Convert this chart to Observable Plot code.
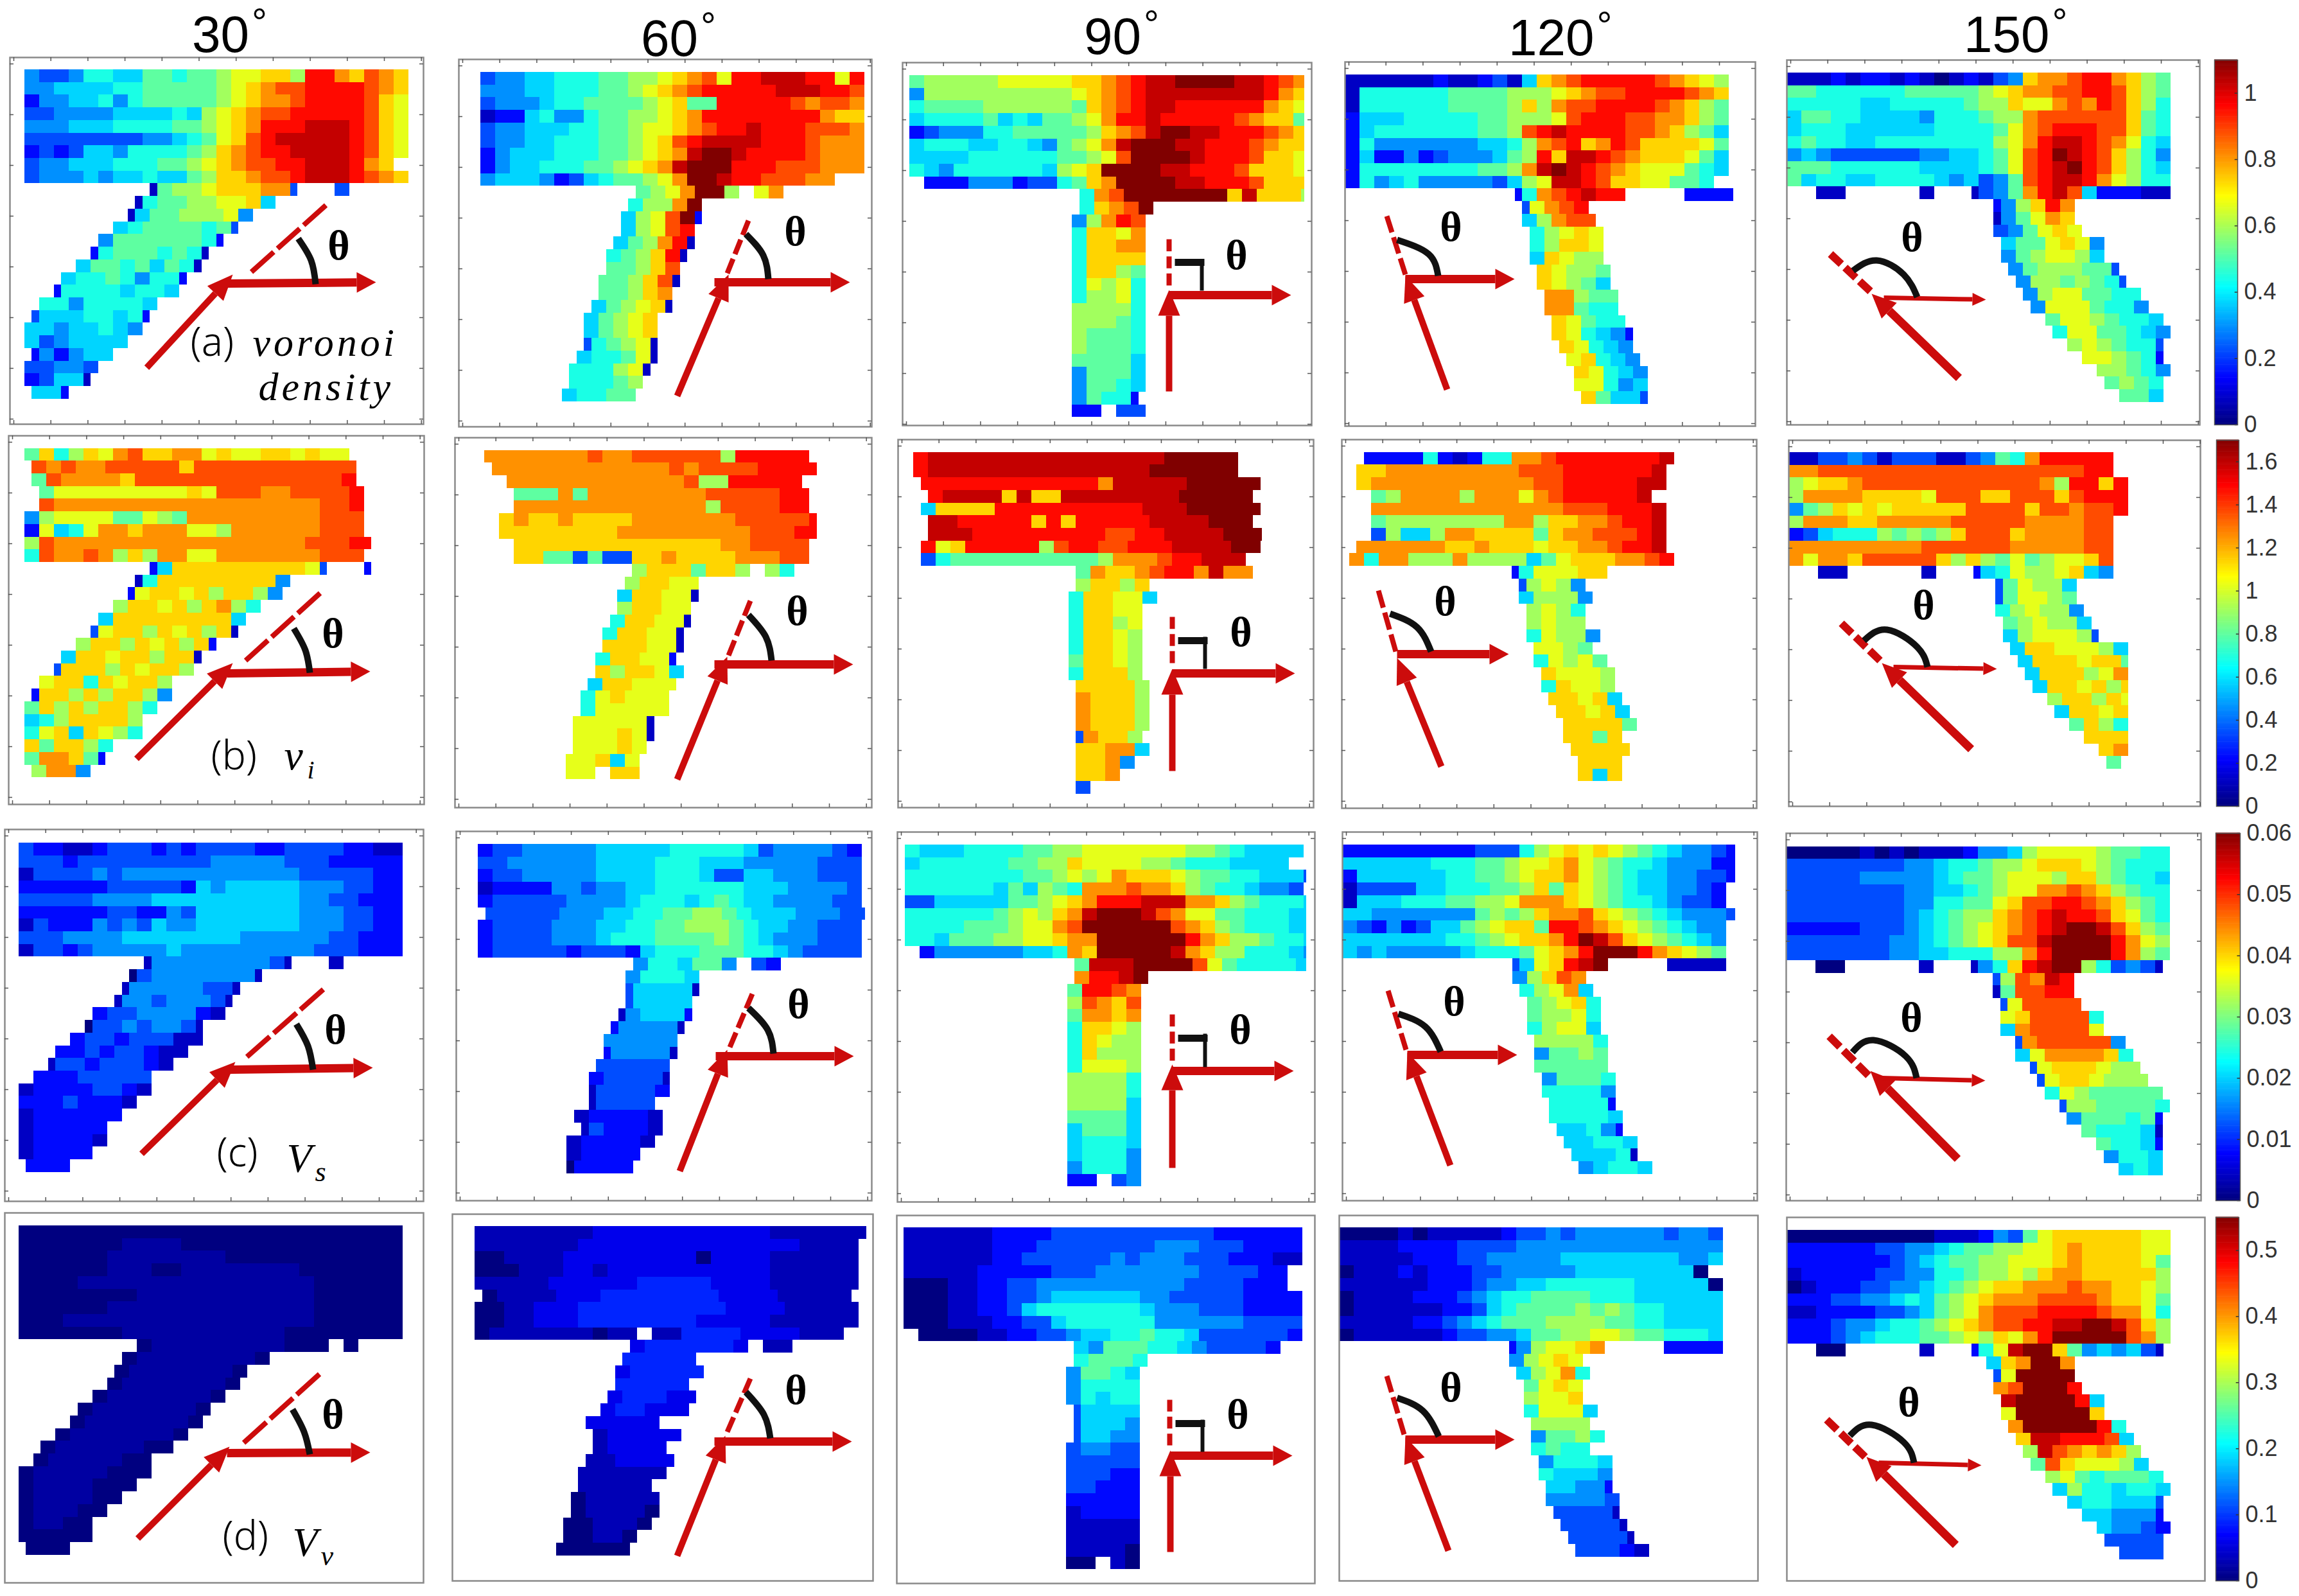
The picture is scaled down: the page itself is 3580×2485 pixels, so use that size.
<!DOCTYPE html>
<html><head><meta charset="utf-8">
<script src="https://cdn.jsdelivr.net/npm/d3@7"></script>
<script src="https://cdn.jsdelivr.net/npm/@observablehq/plot@0.6"></script>
<style>
html,body{margin:0;padding:0;background:#fff}
#page{position:relative;width:3580px;height:2485px;overflow:hidden;background:#fff}
#page>svg{position:absolute}
.title{position:absolute;font:80px/1 "Liberation Sans",sans-serif;color:#000;white-space:nowrap}
.title span{font-size:60px;position:relative;top:-26px;margin-left:4px}
.ls{letter-spacing:5px}
</style></head><body><div id="page"></div>
<script>
// Cell values: one character per cell, 0-f = level/15 of the row's colour-bar maximum, "." = no data.
// A leading ">" shifts that row half a cell to the right. Spaces are only for reading.
const voronoi30=[
"43346 65577 67789 9aa8d dbacb a","44555 56677 77789 abccd dddcb a","24455 64677 77789 abbcd dddca 9","33444 45555 65 89abc cdddd dca9 ","44455 56666 77 89abd ddeee dca9 ","33333 33344 56 79acd eeeee dca9 ","23235 54666 67 8abcd deeee dca9 ","34455 56667 78 9abcc ddeee dba  ","34445 45565 57 8aabc cdeee dcba ",
"........17889aaabb3..3",".......16778899a5",">......157788894","......567777673",".....477777762","....267776761",">...577675761",">..566764662",">.266665665",".66466665","355566562","55455654","5345555","242455","33443","23551",">552"];
const voronoi60=[
"34455 66677 889ab c9dde eedd9 d","44455 66677 89abc ddddd eeedd c","34445 66777 789a7 7dddd dcbcc b","12256 44677 889ab ddddd dddba ab","34455 56677 899ab cdded ddccc b","34455 66677 89acd eeeed ddcbb b","24555 66677 89abe ffedd ddcbb b","24556 66778 9abef ffddd cccbb b","45554 23567 78 9bffed dcccb b  ",
">..........789bff8.9b","..........688bf",">.........589cf2",">.........589cd",".........578bd1",">........678ad1",">........778ac","........778ac1","........778ab",">.......5789a1",".......5789a",".......5789a",">......367891",">......566791","......666891","......66678",">.....56677"];
const voronoi90=[
"78888 89999 9aabc deeff ffeed cba 8","48888 88888 89abc deeee eeeed bab 9","67777 88888 87abc deedd ddddb a98 8","56666 75657 789bd deddd ddcba a7b a","23444 66777 778ab ceffe edddc baa 9","56665 56654 789be fffee dddcb aa9 a","55556 66666 7789c ffffe dddca a99 a","65466 66665 89aff ffeed ddcaa a99 a",".2224 44233 67abf fffee dddca aab b",
">...........6bcfffffffaeaaa85",">...........6abcf","...........48bdc","...........6aa9b","...........6aabb","...........6aaaa","...........6aa87","...........69896","...........68896","...........88886","...........88876","...........87776","...........87776","...........77775","...........47775","...........47765","...........47662","...........22.33"];
const voronoi120=[
"11111 12112 315ab cdddd dcba9 8","16666 66777 78889 abccd dddcb a","16666 66777 78a8b ccddd dcba8 7","25556 66667 78889 cdddc cbba8 7","25666 66667 78cde ddddc cba87 5","26444 44445 568bc dabdc aaaa9 7","25224 23444 578da eedcb aaa97 5","26666 66667 78bef edcba 99976 5","26456 44444 358 9eedca a9977 6",
"...........26bcdedd....2222",">...........39bcd","............58bcc",">............689a9",">............68aa9",">............5a988",".............a9887",".............a9875",">.............bb877",">.............bb766","..............a9766","..............a96542",">..............a9654","...............9a654",">...............a9654",">...............99645","................a7553"];
const voronoi150=[
"1112122121012134abbcddba87","7766666677777 89abbccddca87","6666655666667 88a99bcbdca86","5776655554666 788bcccccca76","5666555555666 679bcdddcca76","6766556666666 689bdeedcb965","4543333334455 679cdfedca864","7776666665555 679cdefdca865","7566556666545 347cdeedb9866",
"..11.....1..1347bdec522211",">.............248adb",">.............1479ba","..............3479a9",">..............5779a94",">..............4789985","...............47888773","> ...............488787 63".replace(/ /g,""),"................48997766",">................49997664",">.................79987665","..................69977654","...................8987663","....................998762",".....................88764",">.....................7876",">......................775"];

const vi30=[
"7a68a 9bcaa bb9a9 9aa9a 99",">cbcbb ccccc acccc ccccc cc",">7cbbbbaccccccccccccccd",".7999999999a9cccbbccccd",".cbbbbbbbbbbbbbbbbbbccd","48999977987bbbbbbbbbccc","29569bbabbb998bbbbbbccc","8cbbbbbbbbbbbbbbbbbcccdd","6cbbcb8a8bb99bbbbbbbccc",
"........25aaaaaaaaa93..2",".......16aaaaaaaa4",">......29aa9a8aa84","......8aa9a8ab86",".....5aaaaaaaa5","....39aa8a9a8a1",">...8aa8a9a8a2",">..5aa9aa8aa1",">.3aaa8a9aa8",".9aa6a9aa8","2aa8a8aa84","7a8a8aa86","568aaaa8","69a5a986","a7aa86","7bba72",">8bb4"];
const vi60=[
"bbbbb bbcbb ccccc c8ddd dd",">bbbbb bbbbb bbcbc cccdd dd",">.bbbbbbbbbbbbc88ddddd","..777b7bbbbbbbbcccccdd","..bbbbbbbbbbbbb8ccccdd",".abaabaaaabbbbbbbcccccd",".aaaaaaaabbbbbbbbbcccdd","..aaaaaaaaaaaaaabbcccc","..aa773733aabaaaabbbcc",
"..........8aaa7aa8.86",">.........8aa99",".........5aa991",".........8aa99",">........6aa991","........6aa991","........aaa991",">.......6aa992",">.......a8aa95",".......5aa999",">......69a999",">......699999","......999991","......999a91","......999a9",">.....99a59",">.....99.aa"];
const vi90=[
"deeee eeeee eeeee eefff ff","deeee eeeee eeeee efff fff",">ddddddddddddbeeeeefffff",".deeeeaeaaeeeeeeeefffff",">5aaaaddddddddddeeefffff",".eedddddadadddddeeeefff",".eeedddddddddccddeeeefff",">d9addddd8cddccdddeeeeff",">3677777777778bbbcddeee",
"...........7baabcddbebb","...........8aa8a",">..........6aa995",">..........6aa99",">..........6aa89",">..........6aa98",">..........6aa98",">..........7aa98",">..........6aaa8","...........aaaa8","...........baaa8","...........baaa8","...........baaa8",">..........3baa8","...........aabb5","...........aab4","...........aab","...........3"];
const vi120=[
".2222621266 bbcdd ddddd e",">aabbbbbbbbbcccdddddde",">abbbbbbbbbbbccdddddee",">.78bbbb8bbb9bcddddde",">.bbbbbbbbbbbbbcccddde",">.788888888bb8aabbcdde",">.38558bbaaaa7abbcccde",">bbbbbbaabaaa9aabbcdde","b6bb888b88885 79aaabbcd",
">..........269 99aa","...........38984",">...........58884","............8986","............8988","............69884",">............9987",">............69897",".............a9998",".............6a998",">.............aa9a5","..............aa9a5",">..............aaaa7",">..............aa7a","...............aaaa",">...............aaa",">...............a5a"];
const vi150=[
"1133431333 1134 76 b ddddd","bbccc ccccc ccccc ccccc dd","89aab ccccc ccccc cc b8 dd a d","8bbbb aaaa9 cccaa cccac ddd","478a9 a9aaa aaccc caccb ccd","8bbba abbbb bcccc cbbbb cc","23566 68787 8accc abbbb cc","bbbbb bbbbc ccccc bbbbb cc","b9bba ccccc a8a87 97899 ac",
"..11.....1..2569889a54",">.............379885",">.............379987","..............689884",">..............789885",">..............5899983","...............5aa99985",">...............5aaa9aa7","................5aaa89b",">................5aa9a8a",">.................8aa8a9","..................5aa9a","...................7a86","....................aaa",".....................ab",">.....................7"];

const vs30=[
"32211 23332 32333 32233 33221 1","33323 33333 33344 44433 32222 2","13333 43444 44444 44443 33332 2","22222 23333 32545 55554 44332 2","33333 44445 55555 55554 43322 2","22222 23322 43555 55554 44332 2","13222 43435 44555 55554 44332 2","33344 44555 55555 44444 43322 2","13323 44444 54444 44444 33322 2",
"........14444444431..1",".......0344444441",">......144444331","......144344431",".....233444421","....033434431",">...233233311",">..223233211",">.133233321",".22233333","122223321","22232221","1222222","122222","122221","12222",">222"];
const vs60=[
"23344 44455 55566 66653 44443 2","33444 44455 55666 55544 44433 3","23344 44455 55666 53355 44433 3","12222 44344 55666 66655 54444 3","23333 34444 56665 67655 44443 3",">33333 44455 66778 87655 54443 3","23333 44455 66778 88765 54433 3","23333 44456 66777 78765 44433 3","23333 32333 25666 77766 54333 3",
">..........4665774.32","..........46665",">.........355551",">.........35555",".........145552",">........244441",">........44444","........244441","........33333",">.......233331",".......133332",".......13333",">......122221",">......132221","......122221","......12222",">.....02222"];
const vs90=[
"65556 66677 88999 99998 87655 55","56666 66778 8a999 98876 66555 5","66666 66677 898 9baaa98 77665 553","66666 65758 76bbb cbba8 76654 43","33555 55778 9abdd deeeb ba876 665","66666 67898 abeff fecb9 97766 655","66667 77899 bcfff fffcb a8766 655","66577 78899 abbff ffffd ba887 665",".2444 44455 6baff fffeb a8866 654",
">...........7eeeffffc97666654",">...........bddef","...........7ddcb","...........8cbac","...........7bbab","...........6aa98","...........6a988","...........6a888","...........69998","...........88886","...........88886","...........88885","...........77775","...........57775","...........56665","...........56664","...........46664","...........22.34"];
const vs120=[
"22222 22223 33689 a9a98 76544 32","55555 56667 78 99ab 98766 54442 2","25555 55667 78 9aab 98765 54433 2","13333 55666 778a7 a9876 55443 2","15556 66778 89bbb a9876 65433 2","55444 44447 878ab bca98 76544 43","43242 35578 9aa7d dcba9 87654 4","55555 55667 89aab dfeca 98765 4","54544 44456 667 9ab dfffd ba987",
"...........359adef....1111",">...........48acb","............689b5",">............789a6",">............78896",">............68995",".............88886",".............47787",".............77777",">.............47776",">.............66664","..............66662","..............66665",">..............55642","...............55665",">...............55561","................45665"];
const vs150=[
"0000010101112 4458999987766","3333333344566 7889aaa987666","3333344444567 789998aa87665","3333333344556 7899bbcba8766","3333333344667 79accddcba876","3333333345678 8abcdeddca976","2222233345678 9abcdeffeca87","3333333445678 9acceffffdb98","3333333445566 688bdffffdb87",
"..00.....1..146adeff863431",">.............38cbed",">.............17ccdd","..............39cccc",">..............9acccc6",">..............5bcccc9","...............3bccccc4",">...............59bbbba6","................39aaa988",">................39aa9888",">.................69877777","..................38877776","...................4777672","....................766651",".....................76652",">.....................4665",">......................565"];

const vv30=[
"00000 00000 00000 00000 00000 0","00000 00111 10000 00000 00000 0","00000 01111 11110 00000 00000 0","00000 01110 01111 11110 00000 0","00001 11111 11111 11111 00000 0","00000 00011 11111 11111 00000 0","00000 01111 11111 11111 00000 0","00011 11111 11111 11111 00000 0","00000 00111 11111 11100 00000 0",
"........0111111111000.0",".......0111111110",">......011111110","......011111110",".....011111110","....011111110",">...011111110",">..011111110",">.011111100",".01111100","011111000","01111000","0111100","011100","01100","00000",">000"];
const vv60=[
"11111 11122 22222 22222 11111 11","11111 11222 22222 22222 22111 1","00111 12222 22222 02222 11111 1","00011 12212 22222 22222 11111 1","11111 22222 23333 32222 11111 1",">01111 22233 33333 32222 11111","00112 22333 33333 33222 21111 1","00112 22333 33333 22222 11111 1","01111 11101 1.113 33322 22111",
">..........23333332.11","..........33333",">.........233333",">.........33333",".........233322",">........233222",">.......22222","........122222","........12222",">.......112222",".......111111",".......11111",">......011111",">......011110","......001110","......00110",">.....00000"];
const vv90=[
"11111 12222 33333 33333 32222 22","11111 12223 33333 33444 33322 22","11111 12233 33334 34443 33222 11","11111 22222 33344 44444 33332 2","00011 22334 44444 44443 33322 2","00011 22334 55555 54433 33322 22","00011 22356 66666 65444 33322 22","00011 12233 56666 66444 44433 33",".0000 11223 34556 67665 33333 32",
">...........547776654 33332",">...........67776","...........47765","...........46666","...........46566","...........35555","...........35554","...........35544","...........34433","...........33333","...........33322","...........33222","...........22222","...........12222","...........11111","...........11111","...........11110","...........00.10"];
const vv120=[
"00001 01111 12334 34444 44344 3","11112 22233 33444 44444 44444 4","11111 22233 44444 55555 55544 5","01112 12223 34444 45555 55550","11111 12223 44556 66666 55555 0","01111 22234 56677 77666 55555 5","01111 11223 56777 78787 66555 5","11111 22345 67778 88877 66555 5","01111 11233 44577 88998 77666 5",
"...........24899ab....2222",">...........489a9","............589b6",">............79a9",">............899a",">............69995",".............8888",".............47786",".............6766",">.............46665",">.............65554","..............55442","..............44443",">..............33331","...............33331",">...............33331","................33321"];
const vv150=[
"0000000000111 24379aaaaaa99","2222223344567 7889 9abaaaa99","2222222345677 88999abaaaa97","1222223344667 8898abbaaaaa8","0122233445678 9aabbbcbbaa98","2223344565789 abbbccccbaa97","1122223345789 bcccddddcbb96","2223445667 89a bccddeeffeca8","2223456667789 8a9bdfffffcb8",
"..00.....1..269effa7454531",">.............5abffb",">.............39ffff","..............bcfffd",">..............effffd5",">..............9fffffa","...............bfffffd6",">...............aeedddc5","................8ecbaba8",">................7ca99985",">.................89767776","..................58665665","...................5665553","....................554442",".....................54432",">.....................3333",">......................333"];

const angleLabels=["30","60","90","120","150"];
const densityTicks=[0,0.2,0.4,0.6,0.8,1];
const speedTicks=[0,0.2,0.4,0.6,0.8,1,1.2,1.4,1.6];
const shearTicks=[0,0.01,0.02,0.03,0.04,0.05,0.06];
const vortTicks=[0,0.1,0.2,0.3,0.4,0.5];

const jetDomain=[0,.125,.375,.625,.875,1];
const jetRange=["#000080","#0000ff","#00ffff","#ffff00","#ff0000","#800000"];
const CW=23, RH=19.72, RED="#cc0c0c";

// frame [x0,x1,y0,y1], data origin [ix,iy], annotation points in page pixels.
const layouts=[
 {m:1.1,xm:26,f:[15,659,89,660],o:[37.5,108],rows:voronoi30,a:[228,572,362,427,353,441,585,439,391,423,507,319],arc:[[464,371],[484,405],[491,442]],t:[527,382]},
 {m:1.1,xm:26,f:[714,1357,92,664],o:[748,112],rows:voronoi60,a:[1054,616,1134,427,1112,439,1323,439,1132,425,1165,343],arc:[[1161,364],[1188,397],[1196,434]],t:[1238,360]},
 {m:1.1,xm:26.75,f:[1405,2042,97,662],o:[1416,117],rows:voronoi90,a:[1820,609,1820,451,1820,459,2010,459,1820,444,1820,372],L:[1829,408,1875,408,1871,403,1871,452],t:[1925,397]},
 {m:1.1,xm:26.3,f:[2094,2733,96,663],o:[2094,116],rows:voronoi120,a:[2253,606,2188,429,2188,434,2358,434,2188,427,2159,336],arc:[[2175,373],[2224,395],[2239,429]],t:[2259,353]},
 {m:1.1,xm:26,f:[2782,3425,93,661],o:[2782,113],rows:voronoi150,thin:1,a:[3050,588,2914,457,2933,463,3092,466,2912,453,2850,395],arc:[[2885,421],[2922,405],[2964,427],[2985,462]],t:[2977,369]},

 {m:1.7,xm:23.5,f:[13,660,678,1252],o:[37.5,697.5],rows:vi30,a:[212,1181,362,1032,353,1048,576,1045,382,1028,498,923],arc:[[457,978],[475,1012],[482,1047]],t:[518,986]},
 {m:1.7,xm:22.5,f:[708,1357,681,1257],o:[754,700.6],rows:vi60,a:[1054,1213,1132,1022,1112,1034,1328,1034,1134,1020,1168,935],arc:[[1165,957],[1192,991],[1201,1028]],t:[1241,951]},
 {m:1.7,xm:23.6,f:[1398,2045,684,1257],o:[1422,703.7],rows:vi90,a:[1825,1200,1825,1041,1825,1048,2016,1048,1825,1032,1825,960],L:[1834,997,1880,997,1876,991,1876,1041],t:[1932,984]},
 {m:1.7,xm:22.2,f:[2089,2735,684,1258],o:[2100.5,703.7],rows:vi120,a:[2244,1193,2175,1024,2175,1018,2349,1018,2173,1014,2146,919],arc:[[2164,955],[2206,976],[2228,1014]],t:[2250,936]},
 {m:1.7,xm:23,f:[2785,3426,685,1255],o:[2785,704],rows:vi150,thin:1,a:[3069,1166,2930,1032,2948,1038,3109,1041,2927,1028,2867,970],arc:[[2902,997],[2938,980],[2985,1007],[3001,1038]],t:[2995,942]},

 {m:.06,xm:26.3,f:[7,659,1291,1870],o:[28.5,1312],rows:vs30,a:[220,1796,366,1653,357,1665,580,1662,384,1645,503,1540],arc:[[461,1594],[479,1628],[487,1665]],t:[522,1603]},
 {m:.06,xm:26.2,f:[710,1357,1294,1869],o:[744,1314],rows:vs60,a:[1058,1823,1132,1634,1114,1644,1329,1644,1136,1630,1171,1547],arc:[[1165,1569],[1195,1603],[1204,1640]],t:[1243,1563]},
 {m:.06,xm:27.2,f:[1397,2047,1295,1871],o:[1408.5,1315],rows:vs90,a:[1825,1818,1825,1657,1825,1667,2014,1667,1825,1651,1825,1579],L:[1834,1616,1880,1616,1876,1609,1876,1661],t:[1931,1603]},
 {m:.06,xm:26.6,f:[2090,2736,1295,1869],o:[2090,1315],rows:vs120,a:[2258,1814,2191,1638,2191,1642,2362,1642,2189,1634,2161,1542],arc:[[2177,1578],[2219,1598],[2243,1637]],t:[2264,1559]},
 {m:.06,xm:26.1,f:[2781,3427,1297,1869],o:[2781,1317.5],rows:vs150,thin:1,a:[3048,1804,2912,1667,2930,1678,3091,1682,2909,1674,2848,1613],arc:[[2884,1638],[2917,1619],[2967,1644],[2984,1678]],t:[2976,1584]},

 {m:.55,k:.5,xm:26.3,f:[7,659,1888,2464],o:[28.5,1908],rows:vv30,plain:1,a:[214,2395,357,2252,353,2262,576,2261,379,2246,497,2139],arc:[[455,2194],[473,2229],[482,2264]],t:[518,2202]},
 {m:.55,k:.8,xm:26.5,f:[704,1359,1890,2461],o:[739,1909],rows:vv60,plain:1,a:[1054,2422,1129,2235,1112,2244,1326,2244,1132,2229,1168,2146],arc:[[1161,2167],[1189,2202],[1199,2239]],t:[1239,2164]},
 {m:.55,xm:27.3,f:[1396,2047,1892,2465],o:[1407,1911],rows:vv90,plain:1,a:[1822,2416,1822,2258,1822,2266,2012,2266,1821,2250,1821,2179],L:[1830,2216,1876,2216,1872,2210,1872,2260],t:[1927,2202]},
 {m:.55,xm:26.7,f:[2085,2737,1892,2461],o:[2085,1911],rows:vv120,plain:1,a:[2255,2414,2188,2237,2188,2241,2358,2241,2186,2233,2159,2142],arc:[[2175,2176],[2215,2196],[2240,2236]],t:[2259,2160]},
 {m:.55,xm:26.2,f:[2782,3433,1895,2461],o:[2782,1915],rows:vv150,plain:1,thin:1,a:[3045,2405,2906,2268,2925,2277,3085,2281,2904,2268,2844,2210],arc:[[2880,2235],[2914,2218],[2964,2245],[2980,2277]],t:[2972,2183]}
];

const rowLabels=[
 {panel:0,items:[["(a)",296,553,62,"n"],["voronoi",393,553,62,"i"],["density",402,622,62,"i"]]},
 {panel:5,items:[["(b)",328,1197,62,"n"],["v",442,1197,66,"i"],["i",478,1211,40,"i"]]},
 {panel:10,items:[["(c)",337,1815,62,"n"],["V",446,1824,64,"i"],["s",490,1838,44,"i"]]},
 {panel:15,items:[["(d)",346,2412,62,"n"],["V",455,2422,64,"i"],["v",499,2436,44,"i"]]}
];
const bars=[
 {m:1.1,t:densityTicks,x:[3448,3484],y:[93,661]},
 {m:1.7,t:speedTicks,x:[3451,3486],y:[685,1255]},
 {m:.06,t:shearTicks,x:[3450,3488],y:[1297,1869]},
 {m:.55,t:vortTicks,x:[3450,3486],y:[1895,2461]}
];
const titles=[[299,82],[998,88],[1688,85],[2349,87],[3058,82]];

const page=document.getElementById("page");
const colorOf=m=>({type:"linear",domain:jetDomain.map(d=>d*m),range:jetRange,clamp:true});

function parse(rows,m,k,xm){
  const out=[];
  rows.forEach((raw,r)=>{
    let s=raw.replace(/ /g,""),sh=0;
    if(s[0]===">"){sh=.5;s=s.slice(1)}
    const row=[...s].map(ch=>parseInt(ch,16));
    row.forEach((l,c)=>{
      if(isNaN(l)) return;
      let x=c+sh,w=1;
      if(r>=9){ // the one-column-wide dark boundary cells of the channel
        const prev=row[c-1],next=row[c+1];
        if(l<=3&&isNaN(prev)&&next>=l+2){x+=.5;w=.5}
        else if(l<=3&&isNaN(next)&&prev>=l+2){w=.5}
      }
      if(x<xm) out.push({c:x,e:Math.min(x+w,xm),r,v:l/15*m*k});
    });
  });
  return out;
}
function head(tx,ty,fx,fy,len,hw){
  const d=Math.hypot(tx-fx,ty-fy),ux=(tx-fx)/d,uy=(ty-fy)/d,bx=tx-ux*len,by=ty-uy*len;
  return {pts:[[tx,ty],[bx-uy*hw,by+ux*hw],[bx+uy*hw,by-ux*hw]],bx,by};
}

layouts.forEach((p,i)=>{
  const [fx0,fx1,fy0,fy1]=p.f,[ix,iy]=p.o,PAD=3;
  const X=x=>(x-ix)/CW,Y=y=>(y-iy)/RH;
  const P=a=>({x:X(a[0]),y:Y(a[1])});
  const poly=(pts,o)=>Plot.line(pts.map(P),{x:"x",y:"y",...o});
  const [sx,sy,ax,ay,ox,oy,ex,ey,d0x,d0y,d1x,d1y]=p.a;
  const inH=head(ax,ay,sx,sy,p.thin?38:40,17);
  const outH=head(ex,ey,ox,oy,p.thin?21:30,p.thin?10:16);
  const dl=Math.hypot(d1x-d0x,d1y-d0y),gap=8,seg=(dl-2*gap)/3;
  const marks=[
    Plot.rect(parse(p.rows,p.m,p.k||1,p.xm),{x1:"c",x2:"e",y1:"r",y2:d=>d.r+1,fill:"v",shapeRendering:"crispEdges"}),
    Plot.frame({stroke:"#8a8a8a",strokeWidth:2.5})
  ];
  if(!p.plain){
    const xt=d3.range(fx0+6,fx1,57.7).map(X),yt=d3.range(fy0+10,fy1,79).map(Y);
    const st={stroke:"#555",strokeWidth:1.5};
    marks.push(
      Plot.ruleX(xt,{y1:Y(fy0),y2:Y(fy0+6),...st}),Plot.ruleX(xt,{y1:Y(fy1-6),y2:Y(fy1),...st}),
      Plot.ruleY(yt,{x1:X(fx0),x2:X(fx0+6),...st}),Plot.ruleY(yt,{x1:X(fx1-6),x2:X(fx1),...st}));
  }
  marks.push(
    poly([[sx,sy],[inH.bx,inH.by]],{stroke:RED,strokeWidth:p.thin?13:10,strokeLinecap:"butt"}),
    poly(inH.pts,{fill:RED,stroke:"none"}),
    poly([[ox,oy],[outH.bx,outH.by]],{stroke:RED,strokeWidth:p.thin?7:13,strokeLinecap:"butt"}),
    poly(outH.pts,{fill:RED,stroke:"none"}),
    poly([[d0x,d0y],[d1x,d1y]],{stroke:RED,strokeWidth:p.thin?12:8,strokeLinecap:"butt",strokeDasharray:`${seg} ${gap}`})
  );
  if(p.arc) marks.push(poly(p.arc,{stroke:"#111",strokeWidth:10,curve:"natural",strokeLinecap:"butt"}));
  if(p.L) marks.push(
    poly([[p.L[0],p.L[1]],[p.L[2],p.L[3]]],{stroke:"#111",strokeWidth:11,strokeLinecap:"butt"}),
    poly([[p.L[4],p.L[5]],[p.L[6],p.L[7]]],{stroke:"#111",strokeWidth:6,strokeLinecap:"butt"}));
  marks.push(Plot.text(["θ"],{x:X(p.t[0]),y:Y(p.t[1]),text:d=>d,fontSize:66,fontWeight:"bold",fontFamily:"Liberation Serif",fill:"#000"}));
  const lab=rowLabels.find(l=>l.panel===i);
  if(lab) lab.items.forEach(([t,x,y,s,k])=>marks.push(Plot.text([t],{x:X(x),y:Y(y),text:d=>d,textAnchor:"start",lineAnchor:"bottom",fontSize:s,
    className:t.length>3?"ls":undefined,
    fontFamily:k==="i"?"Liberation Serif":"Noto Sans",fontStyle:k==="i"?"italic":"normal",fontWeight:k==="i"?"normal":"300",fill:"#000"})));
  const w=fx1-fx0,h=fy1-fy0;
  const svg=Plot.plot({width:w+2*PAD,height:h+2*PAD,marginLeft:PAD,marginRight:PAD,marginTop:PAD,marginBottom:PAD,
    x:{domain:[X(fx0),X(fx1)],axis:null},y:{domain:[Y(fy0),Y(fy1)],reverse:true,axis:null},
    color:colorOf(p.m),style:{background:"transparent"},marks});
  svg.style.left=(fx0-PAD)+"px";svg.style.top=(fy0-PAD)+"px";
  page.appendChild(svg);
});

bars.forEach(b=>{
  const PADY=24,w=b.x[1]-b.x[0],h=b.y[1]-b.y[0],R=90;
  const steps=d3.range(256).map(i=>({a:i/256*b.m,b:(i+1)/256*b.m}));
  const svg=Plot.plot({width:w+R+2,height:h+2*PADY,marginLeft:1,marginRight:R+1,marginTop:PADY,marginBottom:PADY,
    x:{domain:[0,1],axis:null},y:{domain:[0,b.m],axis:null},color:colorOf(b.m),style:{background:"transparent"},
    marks:[
      Plot.rect(steps,{x1:0,x2:1,y1:"a",y2:d=>d.b+b.m/1000,fill:"a"}),
      Plot.ruleY(b.t,{x1:.88,x2:1,stroke:"#333",strokeWidth:1.5}),
      Plot.frame({stroke:"#555",strokeWidth:1.5}),
      Plot.text(b.t,{x:1,y:d=>d,text:d=>String(d),dx:10,textAnchor:"start",fontSize:36,fontFamily:"Liberation Sans Narrow, Liberation Sans",fill:"#333"})
    ]});
  svg.style.left=(b.x[0]-1)+"px";svg.style.top=(b.y[0]-PADY)+"px";
  page.appendChild(svg);
});

titles.forEach(([x,b],i)=>{
  const d=document.createElement("div");d.className="title";
  d.style.left=x+"px";d.style.top=(b-68)+"px";
  d.innerHTML=angleLabels[i]+"<span>°</span>";
  page.appendChild(d);
});
</script></body></html>
